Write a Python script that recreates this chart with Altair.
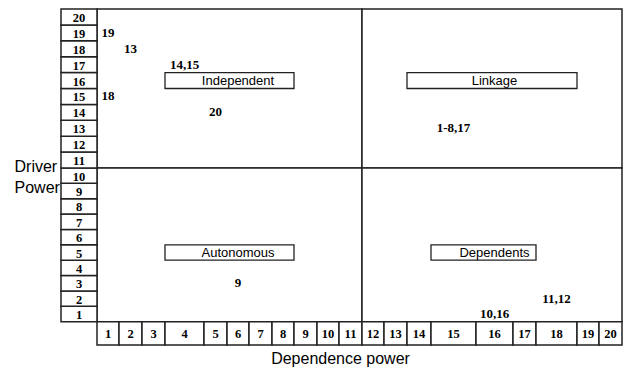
import altair as alt
import pandas as pd

# ---- data ----
point_labels = ["19", "13", "14,15", "18", "20", "1-8,17", "9", "10,16", "11,12"]
dependence = [1, 2, 4, 1, 5, 15, 6, 16, 18]
driver = [19, 18, 17, 15, 14, 13, 3, 1, 2]

tick_values = list(range(1, 21))

quadrant_names = ["Independent", "Linkage", "Autonomous", "Dependents"]
quad_dep_lo = [0.5, 11.5, 0.5, 11.5]
quad_dep_hi = [11.5, 20.5, 11.5, 20.5]
quad_drv_lo = [10.5, 10.5, 0.5, 0.5]
quad_drv_hi = [20.5, 20.5, 10.5, 10.5]

box_dep_lo = [3.5, 13.5, 3.5, 14.5]
box_dep_hi = [8.5, 18.5, 8.5, 17.5]
box_drv = [16, 16, 5, 5]

# ---- layout (non-uniform cell widths of the original table-like axes) ----
col_widths = [22, 23, 23, 39, 23, 22, 23, 22, 23, 22, 23, 22, 23, 24, 45, 37, 23, 41, 22, 23]
ycol_width = 36
x_breaks = [-0.5, 0.5] + [v + 0.5 for v in tick_values]
x_pix = [0]
acc = ycol_width
x_pix.append(acc)
for w in col_widths:
    acc += w
    x_pix.append(acc)
W = x_pix[-1]
H = 336
y_breaks = [-0.5, 0.5, 10.5, 20.5]
y_pix = [H, 312.7, 159, 0]

X_SCALE = alt.Scale(type="linear", domain=x_breaks, range=x_pix, nice=False, zero=False)
Y_SCALE = alt.Scale(type="linear", domain=y_breaks, range=y_pix, nice=False, zero=False)

SANS = "Liberation Sans"
SERIF = "Liberation Serif"
LINE = "#222222"

X_AXIS = alt.Axis(title="Dependence power", labels=False, ticks=False, domain=False, grid=False,
                  titleFont=SANS, titleFontSize=16, titleFontWeight="normal", titleColor="black",
                  titleAlign="center", titleBaseline="alphabetic", titleX=279, titleY=18)
Y_AXIS = alt.Axis(title=["Driver", "Power"], labels=False, ticks=False, domain=False, grid=False,
                  titleFont=SANS, titleFontSize=16, titleFontWeight="normal", titleColor="black",
                  titleAngle=0, titleAlign="left", titleBaseline="alphabetic",
                  titleX=-47, titleY=162, titleLineHeight=21)


def X(f):
    return alt.X(f, type="quantitative", scale=X_SCALE, axis=X_AXIS)


def Y(f):
    return alt.Y(f, type="quantitative", scale=Y_SCALE, axis=Y_AXIS)


# cells of the axes tables
cells = pd.DataFrame(
    [{"x0": -0.5, "x1": 0.5, "y0": v - 0.5, "y1": v + 0.5, "xc": 0, "yc": v, "lab": str(v)} for v in tick_values]
    + [{"x0": v - 0.5, "x1": v + 0.5, "y0": -0.5, "y1": 0.5, "xc": v, "yc": 0, "lab": str(v)} for v in tick_values]
)
quads = pd.DataFrame({"name": quadrant_names, "x0": quad_dep_lo, "x1": quad_dep_hi,
                      "y0": quad_drv_lo, "y1": quad_drv_hi})
boxes = pd.DataFrame({"name": quadrant_names, "x0": box_dep_lo, "x1": box_dep_hi,
                      "y0": [b - 0.5 for b in box_drv], "y1": [b + 0.5 for b in box_drv],
                      "xc": [(a + b) / 2 for a, b in zip(box_dep_lo, box_dep_hi)], "yc": box_drv})
points = pd.DataFrame({"lab": point_labels, "dep": dependence, "drv": driver})

cell_rects = alt.Chart(cells).mark_rect(fill="white", stroke=LINE, strokeWidth=1.5).encode(
    x=X("x0"), x2="x1", y=Y("y0"), y2="y1")
cell_text = alt.Chart(cells).mark_text(font=SERIF, fontSize=12.5, fontWeight="bold", color="black",
                                       baseline="middle", align="center", dy=1).encode(
    x=X("xc"), y=Y("yc"), text="lab:N")
quad_rects = alt.Chart(quads).mark_rect(fill="white", stroke=LINE, strokeWidth=1.5).encode(
    x=X("x0"), x2="x1", y=Y("y0"), y2="y1")
box_rects = alt.Chart(boxes).mark_rect(fill="white", stroke=LINE, strokeWidth=1.3).encode(
    x=X("x0"), x2="x1", y=Y("y0"), y2="y1")
box_text = alt.Chart(boxes).mark_text(font=SANS, fontSize=13, color="black",
                                      baseline="middle", align="center").encode(
    x=X("xc"), y=Y("yc"), text="name:N")
point_text = alt.Chart(points).mark_text(font=SERIF, fontSize=13, fontWeight="bold", color="black",
                                         baseline="middle", align="center").encode(
    x=X("dep"), y=Y("drv"), text="lab:N")

chart = alt.layer(quad_rects, cell_rects, cell_text, box_rects, box_text, point_text).properties(
    width=W, height=H,
    background="white",
    autosize=alt.AutoSizeParams(type="none"),
    padding={"left": 61, "top": 9, "right": 4, "bottom": 25},
).configure_view(stroke=None)

chart.save("out.html", embed_options={"renderer": "svg", "actions": False})
